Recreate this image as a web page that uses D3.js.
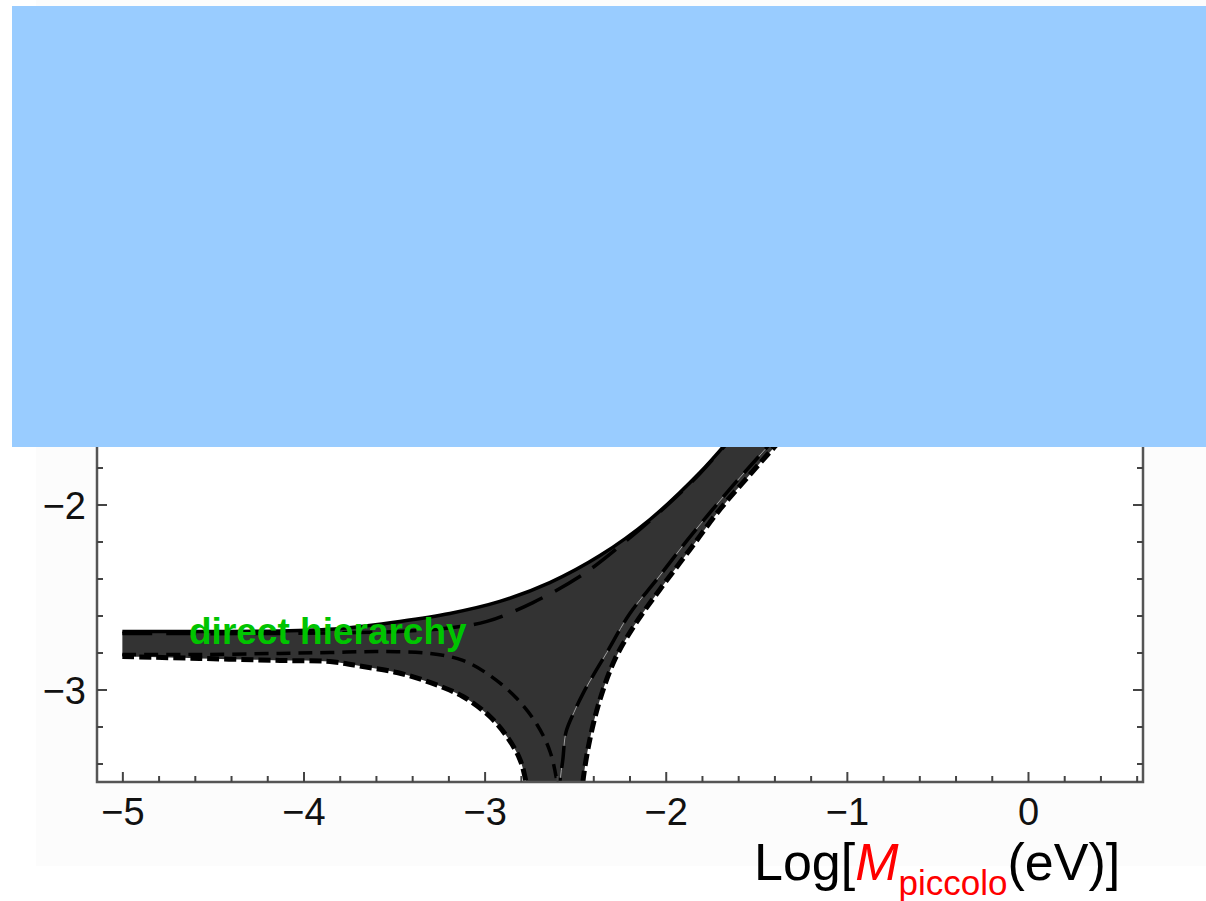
<!DOCTYPE html>
<html>
<head>
<meta charset="utf-8">
<script src="https://cdn.jsdelivr.net/npm/d3@7"></script>
<style>
  html, body { margin: 0; padding: 0; background: #ffffff; }
  svg { display: block; }
</style>
</head>
<body>
<svg id="chart" width="1206" height="901"></svg>
<script>
// ---- data ----
const xMajorTicks = [-5, -4, -3, -2, -1, 0];
const yMajorTicks = [-3, -2, -1, 0];
const xMinorTicks = [-4.8,-4.6,-4.4,-4.2,-3.8,-3.6,-3.4,-3.2,-2.8,-2.6,-2.4,-2.2,-1.8,-1.6,-1.4,-1.2,-0.8,-0.6,-0.4,-0.2,0.2,0.4,0.6];
const yMinorTicks = [-3.4,-3.2,-2.8,-2.6,-2.4,-2.2,-1.8,-1.6,-1.4,-1.2,-0.8,-0.6,-0.4,-0.2,0.2,0.4,0.6];

// upper bound (solid)
const upperBound = [[-5.000,-2.686],[-4.572,-2.686],[-4.130,-2.684],[-3.799,-2.670],[-3.468,-2.632],[-3.192,-2.589],[-2.916,-2.524],[-2.640,-2.422],[-2.363,-2.276],[-2.087,-2.081],[-1.811,-1.827],[-1.590,-1.584],[-1.480,-1.465]];
// upper inner curve (long dash)
const upperInner = [[-5.000,-2.697],[-4.130,-2.697],[-3.468,-2.686],[-3.175,-2.665],[-2.987,-2.632],[-2.733,-2.530],[-2.457,-2.378],[-2.236,-2.211],[-1.993,-2.005],[-1.811,-1.832],[-1.590,-1.589],[-1.480,-1.470]];
// lower bound, left branch (short dash)
const lowerLeft = [[-5.000,-2.822],[-4.572,-2.832],[-4.130,-2.843],[-3.854,-2.849],[-3.672,-2.876],[-3.484,-2.908],[-3.302,-2.962],[-3.120,-3.038],[-2.971,-3.146],[-2.877,-3.254],[-2.805,-3.378],[-2.772,-3.497],[-2.755,-3.595]];
// inner curve, left branch (medium dash)
const innerLeft = [[-5.000,-2.811],[-4.572,-2.811],[-4.130,-2.805],[-3.854,-2.800],[-3.578,-2.795],[-3.302,-2.805],[-3.120,-2.843],[-2.971,-2.924],[-2.822,-3.049],[-2.711,-3.189],[-2.639,-3.335],[-2.601,-3.497],[-2.590,-3.595]];
// lower bound, right branch (short dash)
const lowerRight = [[-2.463,-3.595],[-2.457,-3.497],[-2.419,-3.270],[-2.363,-3.054],[-2.281,-2.838],[-2.170,-2.649],[-2.032,-2.459],[-1.866,-2.243],[-1.701,-2.027],[-1.535,-1.838],[-1.397,-1.686],[-1.259,-1.541]];
// inner curve, right branch (long dash)
const innerRight = [[-2.590,-3.595],[-2.584,-3.497],[-2.568,-3.378],[-2.551,-3.232],[-2.507,-3.124],[-2.457,-3.022],[-2.391,-2.908],[-2.325,-2.800],[-2.198,-2.589],[-2.049,-2.405],[-1.883,-2.195],[-1.728,-2.011],[-1.590,-1.854],[-1.452,-1.703],[-1.314,-1.551]];

const bandLabel = "direct hierarchy";

// ---- drawing ----
const svg = d3.select("#chart");
const W = 1206, H = 901;
const x = d3.scaleLinear().domain([-5.14, 0.635]).range([97, 1143]);
const y = d3.scaleLinear().domain([-3.5, 0.673]).range([782, 10]);

// picture background
svg.append("rect").attr("x", 0).attr("y", 0).attr("width", W).attr("height", H).attr("fill", "#ffffff");
svg.append("rect").attr("x", 36).attr("y", 0).attr("width", W - 36).attr("height", 866).attr("fill", "#fcfcfc");
svg.append("rect").attr("x", x.range()[0]).attr("y", y.range()[1]).attr("width", x.range()[1] - x.range()[0]).attr("height", y.range()[0] - y.range()[1]).attr("fill", "#ffffff");

svg.append("defs").append("clipPath").attr("id", "plotClip")
  .append("rect").attr("x", x.range()[0]).attr("y", y.range()[1])
  .attr("width", x.range()[1] - x.range()[0]).attr("height", y.range()[0] - y.range()[1]);

const plot = svg.append("g").attr("clip-path", "url(#plotClip)");
const line = d3.line().x(d => x(d[0])).y(d => y(d[1])).curve(d3.curveCatmullRom.alpha(0.5));

// filled band: upper bound -> lower right (reversed) -> lower left (reversed)
const areaPath = line(upperBound) + "L" + line(lowerRight.slice().reverse()).slice(1) + "L" + line(lowerLeft.slice().reverse()).slice(1) + "Z";
plot.append("path").attr("d", areaPath).attr("fill", "#333333").attr("stroke", "none");

// faint seam inside the band
plot.append("path").attr("d", line(innerRight)).attr("fill", "none")
  .attr("stroke", "#a0a0a0").attr("stroke-width", 1);

const curves = [
  { data: upperBound, dash: null, w: 3.5 },
  { data: upperInner, dash: "30,14", w: 3.5 },
  { data: lowerLeft, dash: "12,5", w: 5 },
  { data: innerLeft, dash: "14,8", w: 3.5 },
  { data: lowerRight, dash: "12,5", w: 5 },
  { data: innerRight, dash: "22,10", w: 3.5 }
];
plot.selectAll("path.curve").data(curves).enter().append("path")
  .attr("class", "curve")
  .attr("d", d => line(d.data))
  .attr("fill", "none")
  .attr("stroke", "#000")
  .attr("stroke-width", d => d.w)
  .attr("stroke-dasharray", d => d.dash);

// label
svg.append("text").attr("x", 189).attr("y", 644)
  .attr("font-family", "'Liberation Sans', Arial, sans-serif")
  .attr("font-weight", "bold").attr("font-size", 37)
  .attr("fill", "#00c400").text(bandLabel);

// frame
svg.append("rect").attr("x", x.range()[0]).attr("y", y.range()[1])
  .attr("width", x.range()[1] - x.range()[0]).attr("height", y.range()[0] - y.range()[1])
  .attr("fill", "none").attr("stroke", "#555").attr("stroke-width", 2.5);

const fmt = d => (d < 0 ? "\u2212" + Math.abs(d) : String(d));
const axStyle = g => {
  g.select(".domain").remove();
  g.selectAll(".tick line").attr("stroke", "#444").attr("stroke-width", 2);
  g.selectAll(".tick text").attr("font-family", "'Liberation Sans', Arial, sans-serif")
    .attr("font-size", 38).attr("fill", "#111");
};
// bottom
svg.append("g").attr("transform", `translate(0,${y.range()[0]})`)
  .call(d3.axisBottom(x).tickValues(xMajorTicks).tickSize(-10).tickPadding(16).tickFormat(fmt)).call(axStyle);
svg.append("g").attr("transform", `translate(0,${y.range()[0]})`)
  .call(d3.axisBottom(x).tickValues(xMinorTicks).tickSize(-6).tickFormat("")).call(axStyle);
// top
svg.append("g").attr("transform", `translate(0,${y.range()[1]})`)
  .call(d3.axisTop(x).tickValues(xMajorTicks).tickSize(-10).tickFormat("")).call(axStyle);
svg.append("g").attr("transform", `translate(0,${y.range()[1]})`)
  .call(d3.axisTop(x).tickValues(xMinorTicks).tickSize(-6).tickFormat("")).call(axStyle);
// left
svg.append("g").attr("transform", `translate(${x.range()[0]},0)`)
  .call(d3.axisLeft(y).tickValues(yMajorTicks).tickSize(-10).tickPadding(11).tickFormat(fmt)).call(axStyle)
  .selectAll(".tick text").attr("dy", "0.38em");
svg.append("g").attr("transform", `translate(${x.range()[0]},0)`)
  .call(d3.axisLeft(y).tickValues(yMinorTicks).tickSize(-6).tickFormat("")).call(axStyle);
// right
svg.append("g").attr("transform", `translate(${x.range()[1]},0)`)
  .call(d3.axisRight(y).tickValues(yMajorTicks).tickSize(-10).tickFormat("")).call(axStyle);
svg.append("g").attr("transform", `translate(${x.range()[1]},0)`)
  .call(d3.axisRight(y).tickValues(yMinorTicks).tickSize(-6).tickFormat("")).call(axStyle);

// x-axis title
const title = svg.append("text").attr("x", 754).attr("y", 880)
  .attr("font-family", "'Liberation Sans', Arial, sans-serif").attr("font-size", 52).attr("fill", "#000");
title.append("tspan").text("Log[");
title.append("tspan").attr("fill", "#ff0000").attr("font-style", "italic").text("M");
title.append("tspan").attr("fill", "#ff0000").attr("font-size", 35).attr("dy", 15).text("piccolo");
title.append("tspan").attr("dy", -15).text("(eV)]");

// covering panel
svg.append("rect").attr("x", 12).attr("y", 6).attr("width", W - 12).attr("height", 441).attr("fill", "#99ccff");
</script>
</body>
</html>
